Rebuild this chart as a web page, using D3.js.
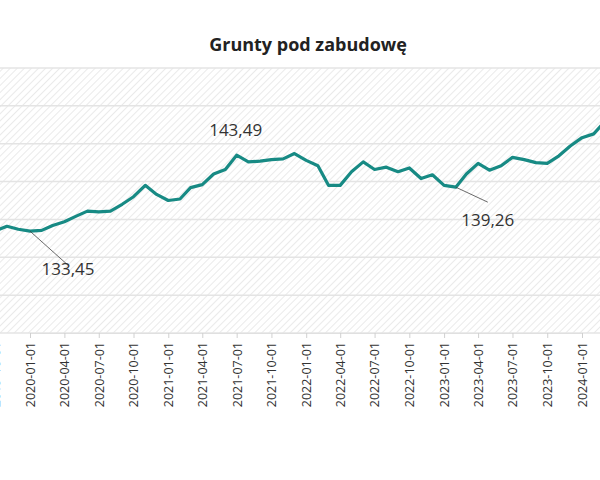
<!DOCTYPE html>
<html><head><meta charset="utf-8">
<script src="https://cdn.jsdelivr.net/npm/d3@7"></script>
<style>body{margin:0;background:#fff;font-family:"Open Sans",sans-serif}</style>
</head><body><svg id="c" width="600" height="480"></svg>
<script>
const title = "Grunty pod zabudowę";
const months = ["2019-10","2019-11","2019-12","2020-01","2020-02","2020-03","2020-04","2020-05","2020-06","2020-07","2020-08","2020-09","2020-10","2020-11","2020-12","2021-01","2021-02","2021-03","2021-04","2021-05","2021-06","2021-07","2021-08","2021-09","2021-10","2021-11","2021-12","2022-01","2022-02","2022-03","2022-04","2022-05","2022-06","2022-07","2022-08","2022-09","2022-10","2022-11","2022-12","2023-01","2023-02","2023-03","2023-04","2023-05","2023-06","2023-07","2023-08","2023-09","2023-10","2023-11","2023-12","2024-01","2024-02","2024-03"];
const values = [133.5,134.1,133.7,133.45,133.55,134.2,134.7,135.4,136.1,136.0,136.1,137.0,138.0,139.5,138.3,137.5,137.7,139.2,139.6,141.0,141.6,143.49,142.6,142.7,142.9,143.0,143.7,142.8,142.1,139.5,139.5,141.3,142.6,141.6,141.9,141.3,141.8,140.4,140.9,139.5,139.26,141.0,142.4,141.5,142.1,143.2,142.9,142.5,142.4,143.4,144.7,145.8,146.3,147.9];
const tickLabels = ["2019-10-01","2020-01-01","2020-04-01","2020-07-01","2020-10-01","2021-01-01","2021-04-01","2021-07-01","2021-10-01","2022-01-01","2022-04-01","2022-07-01","2022-10-01","2023-01-01","2023-04-01","2023-07-01","2023-10-01","2024-01-01"];
const yTicks = [120,125,130,135,140,145,150,155];
const annotations = [
  {month:"2020-01", label:"133,45", dx:38, dy:34, tx:38, ty:38, line:true},
  {month:"2021-07", label:"143,49", dx:0, dy:0, tx:-1, ty:-25, line:false},
  {month:"2023-02", label:"139,26", dx:32, dy:15, tx:32, ty:33, line:true}
];

const parse = d3.timeParse("%Y-%m");
const parseT = d3.timeParse("%Y-%m-%d");
const data = months.map((m,i)=>({d:parse(m), v:values[i]}));
const svg = d3.select("#c");
const plotTop = 68, plotBottom = 333;
const x = d3.scaleTime().domain([parse("2020-01"), parse("2024-01")]).range([30, 582]);
const y = d3.scaleLinear().domain([120,155]).range([plotBottom, plotTop]);

const defs = svg.append("defs");
const pat = defs.append("pattern").attr("id","hatch").attr("patternUnits","userSpaceOnUse")
  .attr("width",5).attr("height",5).attr("patternTransform","rotate(45)");
pat.append("rect").attr("width",5).attr("height",5).attr("fill","#fff");
pat.append("line").attr("x1",0).attr("y1",0).attr("x2",0).attr("y2",5).attr("stroke","#dcdcdc").attr("stroke-width",1.2);
svg.append("rect").attr("x",0).attr("y",plotTop).attr("width",600).attr("height",plotBottom-plotTop).attr("fill","url(#hatch)");

svg.append("g").selectAll("line").data(yTicks).join("line")
  .attr("x1",0).attr("x2",600).attr("y1",d=>y(d)).attr("y2",d=>y(d))
  .attr("stroke","#e4e4e4").attr("stroke-width",1.5);

const ax = svg.append("g").attr("transform",`translate(0,${plotBottom})`)
  .call(d3.axisBottom(x).tickValues(tickLabels.map(t=>parseT(t))).tickFormat(d3.timeFormat("%Y-%m-%d")).tickSize(5).tickPadding(6));
ax.select(".domain").attr("stroke","#e0e0e0");
ax.selectAll(".tick line").attr("stroke","#d0d0d0");
ax.selectAll("text").attr("transform","rotate(-90)").attr("text-anchor","end")
  .attr("x",-9).attr("y",0).attr("dy","0.35em").attr("font-size",12.5).attr("fill","#333").attr("font-family","Open Sans");

svg.append("path").datum(data).attr("fill","none").attr("stroke","#178a84").attr("stroke-width",3.2)
  .attr("stroke-linejoin","round").attr("d",d3.line().x(d=>x(d.d)).y(d=>y(d.v)));

annotations.forEach(a=>{
  const d = data[months.indexOf(a.month)];
  const px = x(d.d), py = y(d.v);
  if(a.line) svg.append("line").attr("x1",px).attr("y1",py).attr("x2",px+a.dx).attr("y2",py+a.dy).attr("stroke","#444").attr("stroke-width",0.8);
  svg.append("text").attr("x",px+a.tx).attr("y",py+a.ty).attr("text-anchor","middle").attr("dy","0.35em")
    .attr("font-size",17).attr("fill","#333").attr("font-family","Open Sans").text(a.label);
});

svg.append("text").attr("x",308).attr("y",45).attr("dy","0.35em").attr("text-anchor","middle")
  .attr("font-size",18).attr("font-weight","bold").attr("fill","#222").text(title);
</script></body></html>
